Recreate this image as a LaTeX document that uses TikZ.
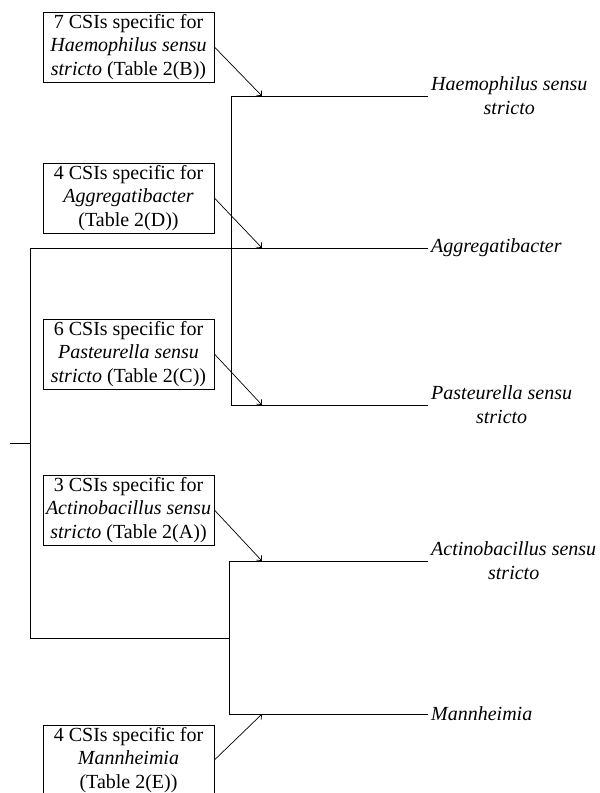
\documentclass[tikz,border=0pt]{standalone}
\usepackage{fontspec}
\setmainfont{Liberation Serif}
\usetikzlibrary{arrows.meta}
\tikzset{
	csi/.style={draw,line width=0.8pt,minimum width=171pt,inner sep=1.5pt,minimum height=70pt,align=center,font=\fontsize{20}{23.5}\selectfont},
	taxon/.style={anchor=west,inner sep=3pt,align=center,font=\fontsize{20}{24}\selectfont\itshape},
	branch/.style={line width=0.8pt},
	pointer/.style={line width=0.7pt,-{Straight Barb[length=4pt,width=7pt]}}
}
\newcommand{\maketaxon}[4]{
	\coordinate (J#1) at (#3,#2);
	\coordinate (A#1) at (262,#2);
	\node[taxon] (#1) at (428,#2) {#4};
	\draw[branch] (J#1) -- (#1.west);
}
\newcommand{\makecsi}[3]{
	\node[csi] (C#1) at (128.5,#2) {#3};
	\draw[pointer] (C#1.east) -- (A#1);
}
\begin{document}
\begin{tikzpicture}[x=1pt,y=-1pt]
	\useasboundingbox (0,0) rectangle (600,793);
	\maketaxon{hae}{96}{231}{Haemophilus sensu\\stricto}
	\maketaxon{agg}{248}{30}{Aggregatibacter}
	\maketaxon{pas}{405}{231}{Pasteurella sensu\\stricto}
	\maketaxon{act}{561}{229}{Actinobacillus sensu\\stricto}
	\maketaxon{man}{714}{229}{Mannheimia}
	\coordinate (root) at (10,443);
	\coordinate (R) at (30,443);
	\coordinate (L) at (30,638);
	\coordinate (lowclade) at (229,638);
	\draw[branch] (root) -- (R);
	\draw[branch] (Jagg) -- (L) -- (lowclade);
	\draw[branch] (Jhae) -- (Jpas);
	\draw[branch] (Jact) -- (Jman);
	\makecsi{hae}{47}{7 CSIs specific for\\\textit{Haemophilus sensu}\\\textit{stricto} (Table 2(B))}
	\makecsi{agg}{198}{4 CSIs specific for\\\textit{Aggregatibacter}\\(Table 2(D))}
	\makecsi{pas}{354}{6 CSIs specific for\\\textit{Pasteurella sensu}\\\textit{stricto} (Table 2(C))}
	\makecsi{act}{510}{3 CSIs specific for\\\textit{Actinobacillus sensu}\\\textit{stricto} (Table 2(A))}
	\makecsi{man}{760}{4 CSIs specific for\\\textit{Mannheimia}\\(Table 2(E))}
\end{tikzpicture}
\end{document}
